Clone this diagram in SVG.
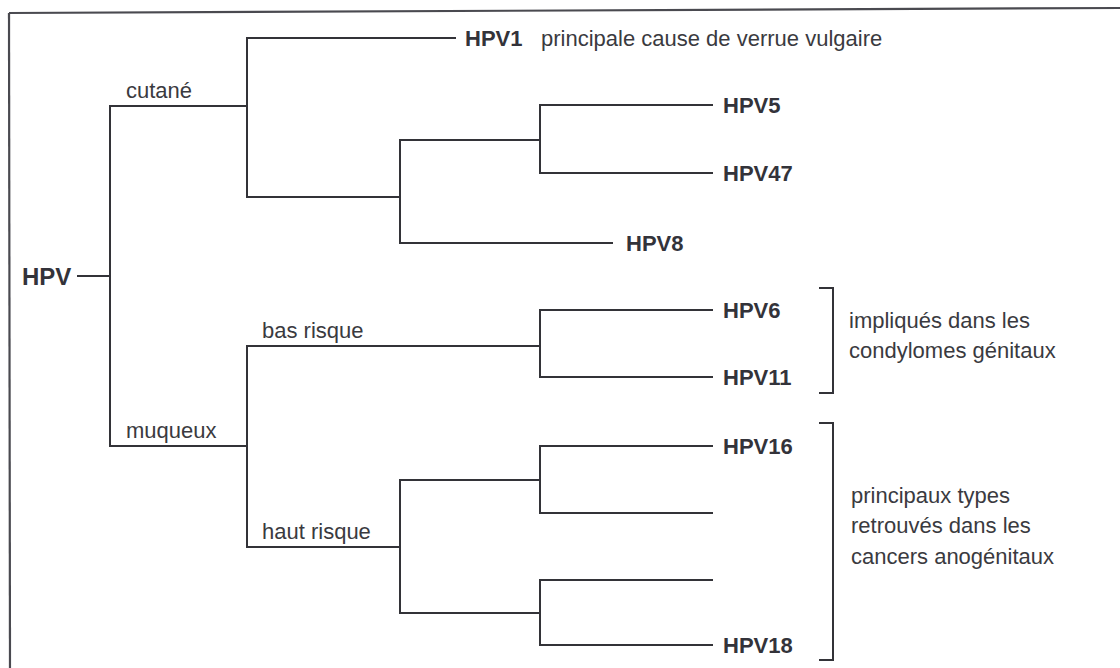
<svg xmlns="http://www.w3.org/2000/svg" width="1120" height="668" viewBox="0 0 1120 668">
  <style>
    .ln { fill: none; stroke: #333338; stroke-width: 2; stroke-linecap: square; }
    .frame { fill: none; stroke: #4a4a50; stroke-width: 2.2; }
    .tx { font-family: "Liberation Sans", Arial, sans-serif; font-size: 22px; fill: #3a3a40; }
    .lb { font-family: "Liberation Sans", Arial, sans-serif; font-size: 22px; font-weight: bold; fill: #33333a; }
  </style>
  <rect width="1120" height="668" fill="#ffffff"/>

  <!-- frame (top and left edges) -->
  <g id="frame">
    <line class="frame" x1="9" y1="13" x2="1120" y2="8"/>
    <line class="frame" x1="9" y1="13" x2="10" y2="668"/>
  </g>

  <!-- tree connectors -->
  <g id="connectors">
    <line class="ln" x1="78" y1="276" x2="110" y2="276"/>
    <!-- root split -->
    <polyline class="ln" points="247,106 110,106 110,446 247,446"/>
    <!-- cutaneous -->
    <polyline class="ln" points="455,38 247,38 247,197 400,197"/>
    <polyline class="ln" points="540,140 400,140 400,243 612,243"/>
    <polyline class="ln" points="712,105 540,105 540,173 712,173"/>
    <!-- mucosal -->
    <polyline class="ln" points="540,346 247,346 247,547 400,547"/>
    <polyline class="ln" points="712,310 540,310 540,377 712,377"/>
    <polyline class="ln" points="540,480 400,480 400,613 540,613"/>
    <polyline class="ln" points="712,446 540,446 540,513 712,513"/>
    <polyline class="ln" points="712,580 540,580 540,645 712,645"/>
    <!-- brackets -->
    <polyline class="ln" points="820,288 833,288 833,393 820,393"/>
    <polyline class="ln" points="820,423 833,423 833,660 820,660"/>
  </g>

  <g id="root"><text class="lb" x="22" y="285" style="font-size:24px">HPV</text></g>

  <g id="branch-labels">
    <text class="tx" x="126" y="98">cutané</text>
    <text class="tx" x="126" y="438">muqueux</text>
    <text class="tx" x="262" y="338">bas risque</text>
    <text class="tx" x="262" y="539">haut risque</text>
  </g>

  <g id="hpv1">
    <text class="lb" x="465" y="46">HPV1</text>
    <text class="tx" x="541" y="46">principale cause de verrue vulgaire</text>
  </g>
  <g id="hpv5"><text class="lb" x="723" y="113">HPV5</text></g>
  <g id="hpv47"><text class="lb" x="723" y="181">HPV47</text></g>
  <g id="hpv8"><text class="lb" x="626" y="251">HPV8</text></g>
  <g id="hpv6"><text class="lb" x="723" y="318">HPV6</text></g>
  <g id="hpv11"><text class="lb" x="723" y="385">HPV11</text></g>
  <g id="hpv16"><text class="lb" x="723" y="454">HPV16</text></g>
  <g id="hpv18"><text class="lb" x="723" y="653">HPV18</text></g>

  <g id="note-low-risk">
    <text class="tx" x="849" y="328">impliqués dans les</text>
    <text class="tx" x="849" y="358">condylomes génitaux</text>
  </g>
  <g id="note-high-risk">
    <text class="tx" x="851" y="503">principaux types</text>
    <text class="tx" x="851" y="533">retrouvés dans les</text>
    <text class="tx" x="851" y="564">cancers anogénitaux</text>
  </g>
</svg>
